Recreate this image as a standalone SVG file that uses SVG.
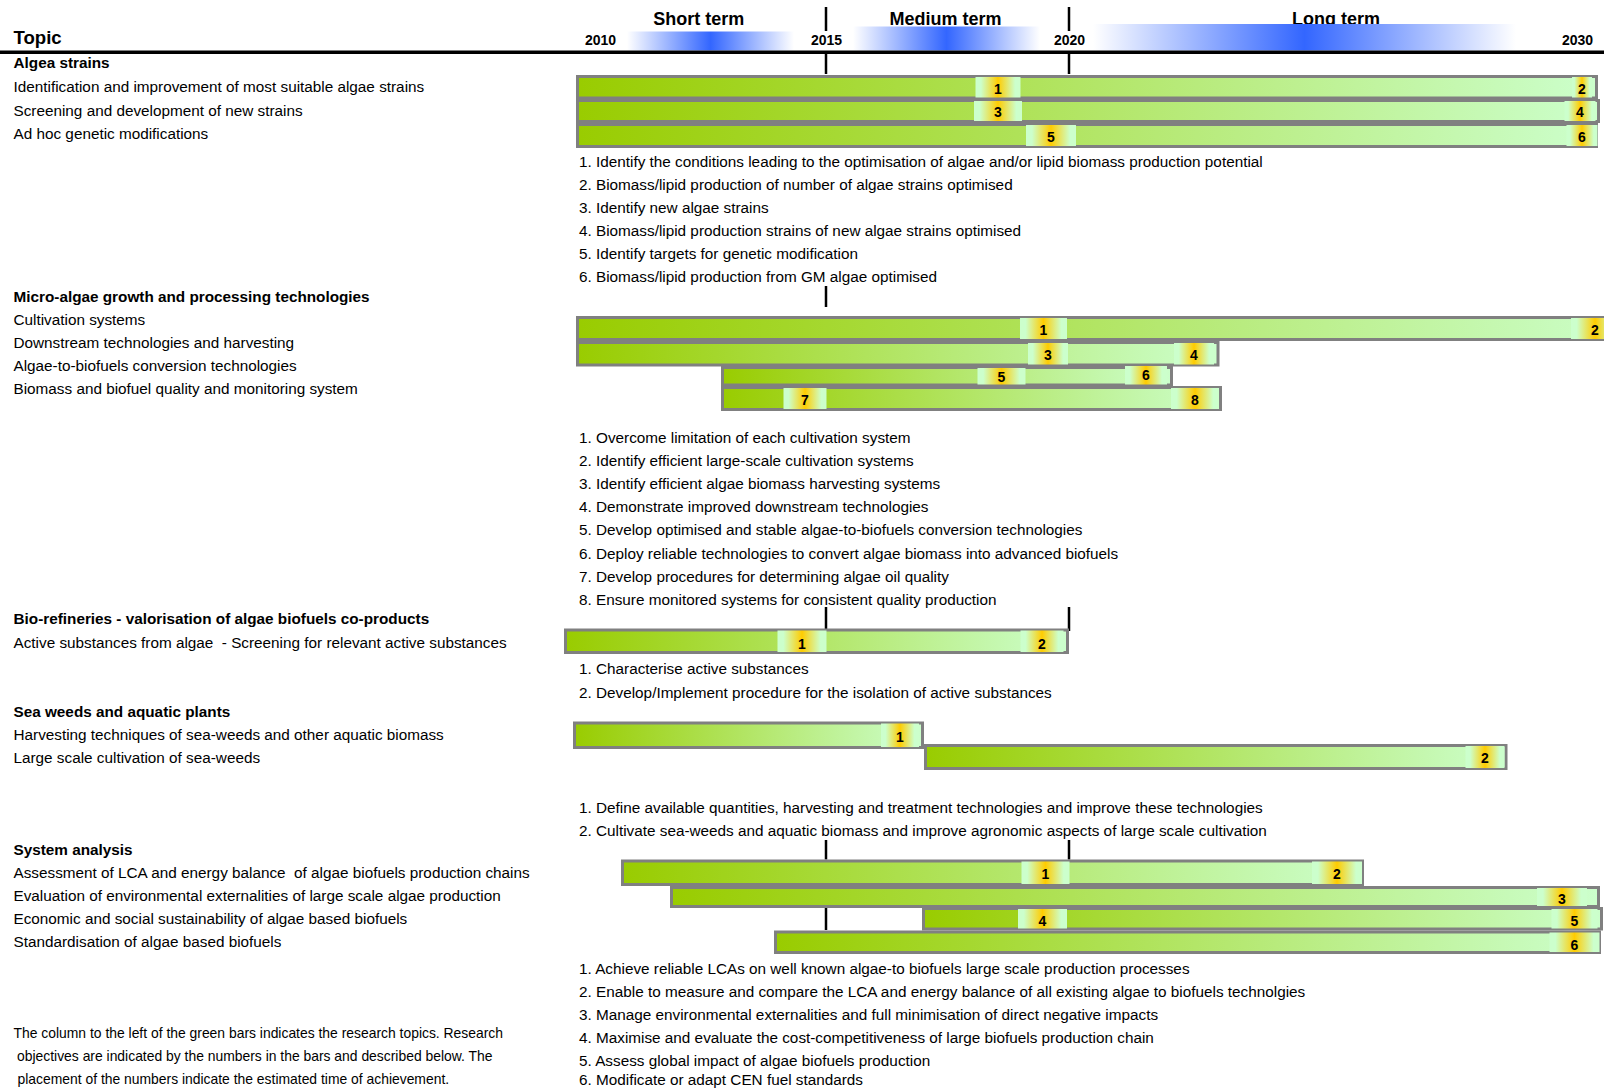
<svg xmlns="http://www.w3.org/2000/svg" width="1604" height="1088" viewBox="0 0 1604 1088">
<defs>
<linearGradient id="gBar" x1="0" y1="0" x2="1" y2="0"><stop offset="0" stop-color="#99CC00"/><stop offset="1" stop-color="#CCFFCC"/></linearGradient>
<linearGradient id="gMk" x1="0" y1="0" x2="1" y2="0"><stop offset="0" stop-color="#CCFFCC"/><stop offset="0.12" stop-color="#CCFFCC"/><stop offset="0.5" stop-color="#FFCC00"/><stop offset="0.88" stop-color="#CCFFCC"/><stop offset="1" stop-color="#CCFFCC"/></linearGradient>
<linearGradient id="gBlue" x1="0" y1="0" x2="1" y2="0"><stop offset="0" stop-color="#FFFFFF"/><stop offset="0.5" stop-color="#3366FF"/><stop offset="1" stop-color="#FFFFFF"/></linearGradient>
<style>
text{font-family:"Liberation Sans",Arial,sans-serif;fill:#000}
.t{font-size:15.3px}
.b{font-size:15.3px;font-weight:bold}
.term{font-size:18px;font-weight:bold;text-anchor:middle}
.yr{font-size:14px;font-weight:bold;text-anchor:middle}
.n{font-size:14px;font-weight:bold;text-anchor:middle}
.fn{font-size:13.9px}
.bar{fill:url(#gBar);stroke:#808080;stroke-width:3}
.mk{fill:url(#gMk)}
.tick{stroke:#000;stroke-width:2.5}
.blue{fill:url(#gBlue)}
</style>
</defs>
<rect width="1604" height="1088" fill="#FFFFFF"/>

<g id="header">
<text x="13.5" y="44" style="font-size:18.6px;font-weight:bold">Topic</text>
<text class="term" x="698.7" y="25">Short term</text>
<text class="term" x="945.5" y="25">Medium term</text>
<text class="term" x="1336" y="25">Long term</text>
<rect class="blue" x="627" y="31.5" width="167" height="19"/>
<rect class="blue" x="853" y="26.5" width="187" height="24"/>
<rect class="blue" x="1093" y="24" width="423" height="26.5"/>
<text class="yr" x="600.5" y="45">2010</text>
<text class="yr" x="826.6" y="45">2015</text>
<text class="yr" x="1069.5" y="45">2020</text>
<text class="yr" x="1577.5" y="45">2030</text>
<line x1="0" y1="52.2" x2="1604" y2="52.2" stroke="#000" stroke-width="3.5"/>
</g>

<g id="connectors">
<line class="tick" x1="826" y1="7" x2="826" y2="31"/>
<line class="tick" x1="1069" y1="7" x2="1069" y2="31"/>
<line class="tick" x1="826" y1="53" x2="826" y2="74"/>
<line class="tick" x1="1069" y1="53" x2="1069" y2="74"/>
<line class="tick" x1="826" y1="286" x2="826" y2="307"/>
<line class="tick" x1="826" y1="607" x2="826" y2="629"/>
<line class="tick" x1="1069" y1="607" x2="1069" y2="631"/>
<line class="tick" x1="826" y1="840" x2="826" y2="859.5"/>
<line class="tick" x1="1069" y1="840" x2="1069" y2="859.5"/>
<line class="tick" x1="826" y1="908" x2="826" y2="930"/>
</g>

<!-- Algae strains -->
<g id="labels-algae">
<text class="b" x="13.5" y="67.5">Algea strains</text>
<text class="t" x="13.5" y="91.5">Identification and improvement of most suitable algae strains</text>
<text class="t" x="13.5" y="115.5">Screening and development of new strains</text>
<text class="t" x="13.5" y="139">Ad hoc genetic modifications</text>
</g>
<g id="bar-algae-1">
<rect class="bar" x="577.5" y="76.5" width="1019" height="21.5"/>
<rect class="mk" x="975.5" y="77" width="45" height="20.5"/><text class="n" x="998" y="93.5">1</text>
<rect class="mk" x="1572" y="77" width="20" height="20.5"/><text class="n" x="1582" y="93.5">2</text>
</g>
<g id="bar-algae-2">
<rect class="bar" x="577.5" y="100.5" width="1021" height="21"/>
<rect class="mk" x="974" y="101" width="48" height="20"/><text class="n" x="998" y="117">3</text>
<rect class="mk" x="1564.5" y="101" width="31" height="20"/><text class="n" x="1580" y="117">4</text>
</g>
<g id="bar-algae-3">
<rect class="bar" x="577.5" y="124.5" width="1019" height="22"/>
<rect class="mk" x="1026" y="125" width="50" height="21"/><text class="n" x="1051" y="141.5">5</text>
<rect class="mk" x="1566.5" y="125" width="31" height="21"/><text class="n" x="1582" y="141.5">6</text>
</g>
<g id="obj-algae">
<text class="t" x="579" y="166.5">1. Identify the conditions leading to the optimisation of algae and/or lipid biomass production potential</text>
<text class="t" x="579" y="189.6">2. Biomass/lipid production of number of algae strains optimised</text>
<text class="t" x="579" y="212.7">3. Identify new algae strains</text>
<text class="t" x="579" y="235.8">4. Biomass/lipid production strains of new algae strains optimised</text>
<text class="t" x="579" y="258.9">5. Identify targets for genetic modification</text>
<text class="t" x="579" y="282">6. Biomass/lipid production from GM algae optimised</text>
</g>

<!-- Micro-algae -->
<g id="labels-micro">
<text class="b" x="13.5" y="301.5">Micro-algae growth and processing technologies</text>
<text class="t" x="13.5" y="324.5">Cultivation systems</text>
<text class="t" x="13.5" y="347.5">Downstream technologies and harvesting</text>
<text class="t" x="13.5" y="370.5">Algae-to-biofuels conversion technologies</text>
<text class="t" x="13.5" y="394">Biomass and biofuel quality and monitoring system</text>
</g>
<g id="bar-micro-1">
<rect class="bar" x="577.5" y="317.5" width="1060" height="22"/>
<rect class="mk" x="1020" y="318" width="47" height="21"/><text class="n" x="1043.5" y="334.5">1</text>
<rect class="mk" x="1571" y="318" width="48" height="21"/><text class="n" x="1595" y="334.5">2</text>
</g>
<g id="bar-micro-2">
<rect class="bar" x="577.5" y="342.5" width="640.5" height="22.5"/>
<rect class="mk" x="1028" y="343" width="40" height="21.5"/><text class="n" x="1048" y="360">3</text>
<rect class="mk" x="1174" y="343" width="40" height="21.5"/><text class="n" x="1194" y="360">4</text>
</g>
<g id="bar-micro-3">
<rect class="bar" x="722.5" y="367.5" width="449" height="17.5"/>
<rect class="mk" x="977.5" y="368" width="48" height="16.5"/><text class="n" x="1001.5" y="382">5</text>
<rect class="mk" x="1125" y="366" width="42" height="18.5"/><text class="n" x="1146" y="380">6</text>
</g>
<g id="bar-micro-4">
<rect class="bar" x="722.5" y="387.5" width="498" height="22"/>
<rect class="mk" x="783.5" y="388" width="43" height="21"/><text class="n" x="805" y="404.5">7</text>
<rect class="mk" x="1171" y="388" width="48" height="21"/><text class="n" x="1195" y="404.5">8</text>
</g>
<g id="obj-micro">
<text class="t" x="579" y="443">1. Overcome limitation of each cultivation system</text>
<text class="t" x="579" y="466.1">2. Identify efficient large-scale cultivation systems</text>
<text class="t" x="579" y="489.2">3. Identify efficient algae biomass harvesting systems</text>
<text class="t" x="579" y="512.3">4. Demonstrate improved downstream technologies</text>
<text class="t" x="579" y="535.4">5. Develop optimised and stable algae-to-biofuels conversion technologies</text>
<text class="t" x="579" y="558.5">6. Deploy reliable technologies to convert algae biomass into advanced biofuels</text>
<text class="t" x="579" y="581.6">7. Develop procedures for determining algae oil quality</text>
<text class="t" x="579" y="604.7">8. Ensure monitored systems for consistent quality production</text>
</g>

<!-- Bio-refineries -->
<g id="labels-bio">
<text class="b" x="13.5" y="624">Bio-refineries - valorisation of algae biofuels co-products</text>
<text class="t" x="13.5" y="647.5" xml:space="preserve">Active substances from algae  - Screening for relevant active substances</text>
</g>
<g id="bar-bio-1">
<rect class="bar" x="565.5" y="630" width="502" height="22.5"/>
<rect class="mk" x="777.5" y="630.5" width="49" height="21.5"/><text class="n" x="802" y="648.5">1</text>
<rect class="mk" x="1020.5" y="630.5" width="43" height="21.5"/><text class="n" x="1042" y="648.5">2</text>
</g>
<g id="obj-bio">
<text class="t" x="579" y="674">1. Characterise active substances</text>
<text class="t" x="579" y="697.5">2. Develop/Implement procedure for the isolation of active substances</text>
</g>

<!-- Sea weeds -->
<g id="labels-sea">
<text class="b" x="13.5" y="717">Sea weeds and aquatic plants</text>
<text class="t" x="13.5" y="739.5">Harvesting techniques of sea-weeds and other aquatic biomass</text>
<text class="t" x="13.5" y="763">Large scale cultivation of sea-weeds</text>
</g>
<g id="bar-sea-1">
<rect class="bar" x="574.5" y="723" width="348" height="24.5"/>
<rect class="mk" x="881" y="723.5" width="38" height="23.5"/><text class="n" x="900" y="742">1</text>
</g>
<g id="bar-sea-2">
<rect class="bar" x="925.5" y="745.5" width="580.5" height="23"/>
<rect class="mk" x="1465.5" y="746" width="39" height="22"/><text class="n" x="1485" y="763">2</text>
</g>
<g id="obj-sea">
<text class="t" x="579" y="813">1. Define available quantities, harvesting and treatment technologies and improve these technologies</text>
<text class="t" x="579" y="835.5">2. Cultivate sea-weeds and aquatic biomass and improve agronomic aspects of large scale cultivation</text>
</g>

<!-- System analysis -->
<g id="labels-system">
<text class="b" x="13.5" y="855">System analysis</text>
<text class="t" x="13.5" y="877.5" xml:space="preserve">Assessment of LCA and energy balance  of algae biofuels production chains</text>
<text class="t" x="13.5" y="901">Evaluation of environmental externalities of large scale algae production</text>
<text class="t" x="13.5" y="923.5">Economic and social sustainability of algae based biofuels</text>
<text class="t" x="13.5" y="947">Standardisation of algae based biofuels</text>
</g>
<g id="bar-system-1">
<rect class="bar" x="622.5" y="861" width="740" height="23.5"/>
<rect class="mk" x="1021.5" y="861.5" width="48" height="22.5"/><text class="n" x="1045.5" y="879">1</text>
<rect class="mk" x="1312" y="861.5" width="50" height="22.5"/><text class="n" x="1337" y="879">2</text>
</g>
<g id="bar-system-2">
<rect class="bar" x="671.5" y="887.5" width="927" height="19"/>
<rect class="mk" x="1537" y="888" width="50" height="18"/><text class="n" x="1562" y="904">3</text>
</g>
<g id="bar-system-3">
<rect class="bar" x="923.5" y="908.5" width="678" height="20.5"/>
<rect class="mk" x="1018" y="909" width="49" height="19.5"/><text class="n" x="1042.5" y="925.5">4</text>
<rect class="mk" x="1551.5" y="909" width="46" height="19.5"/><text class="n" x="1574.5" y="925.5">5</text>
</g>
<g id="bar-system-4">
<rect class="bar" x="775.5" y="932" width="824" height="20.5"/>
<rect class="mk" x="1549.5" y="932.5" width="50" height="19.5"/><text class="n" x="1574.5" y="949.5">6</text>
</g>
<g id="obj-system">
<text class="t" x="579" y="974">1. Achieve reliable LCAs on well known algae-to biofuels large scale production processes</text>
<text class="t" x="579" y="997.3">2. Enable to measure and compare the LCA and energy balance of all existing algae to biofuels technolgies</text>
<text class="t" x="579" y="1020">3. Manage environmental externalities and full minimisation of direct negative impacts</text>
<text class="t" x="579" y="1043.3">4. Maximise and evaluate the cost-competitiveness of large biofuels production chain</text>
<text class="t" x="579" y="1066">5. Assess global impact of algae biofuels production</text>
<text class="t" x="579" y="1085">6. Modificate or adapt CEN fuel standards</text>
</g>

<g id="footnote">
<text class="fn" x="13.5" y="1037.5">The column to the left of the green bars indicates the research topics. Research</text>
<text class="fn" x="17" y="1061">objectives are indicated by the numbers in the bars and described below. The</text>
<text class="fn" x="17.5" y="1083.5">placement of the numbers indicate the estimated time of achievement.</text>
</g>
</svg>
